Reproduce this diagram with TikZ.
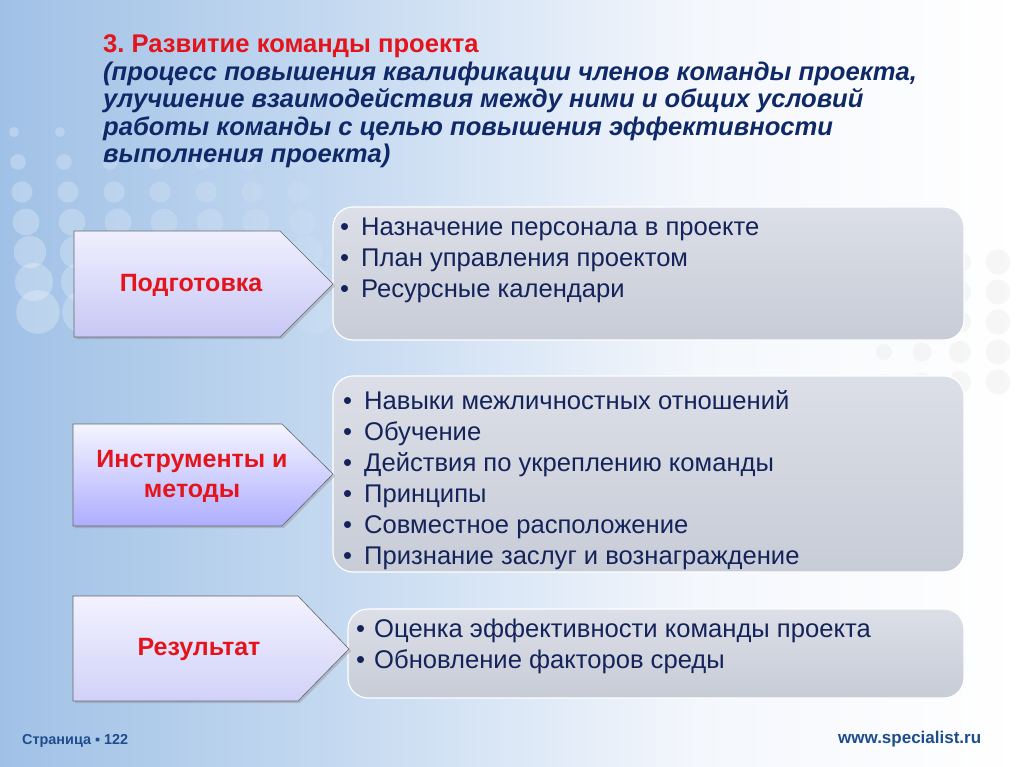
\documentclass[tikz,border=0pt]{standalone}
\usepackage{fontspec}
\setmainfont{Liberation Sans}
\usetikzlibrary{shadows}

\definecolor{titlered}{HTML}{E3141B}
\definecolor{navy}{HTML}{0F2968}
\definecolor{textnavy}{HTML}{14235A}
\definecolor{footblue}{HTML}{1E4D8C}
\definecolor{bgleft}{RGB}{160,193,230}
\definecolor{bgmid}{RGB}{198,218,241}
\definecolor{bgpale}{RGB}{244,247,252}
\definecolor{bgtop}{RGB}{220,223,231}
\definecolor{bgbot}{RGB}{200,204,215}

\pgfdeclarehorizontalshading{slidebg}{100bp}{color(0bp)=(bgleft); color(25bp)=(bgleft);
  color(42bp)=(bgmid); color(59bp)=(bgpale); color(75bp)=(white); color(100bp)=(white)}

\newcommand{\bul}[1][21pt]{\makebox[#1][l]{•}}

\tikzset{
  arrowbox/.style={draw=black!60, line width=0.6pt, drop shadow={opacity=0.35, shadow xshift=2pt, shadow yshift=-2pt}},
  listbox/.style={draw=white, line width=1.2pt, rounded corners=20pt, top color=bgtop, bottom color=bgbot},
  labeltext/.style={text=titlered, font=\bfseries\fontsize{25}{30}\selectfont, align=center},
  listtext/.style={text=textnavy, font=\fontsize{25.6}{31}\selectfont, align=left, inner sep=0pt, anchor=base west},
  foot/.style={text=footblue, font=\bfseries, inner sep=0pt, anchor=base west},
}

\begin{document}
\begin{tikzpicture}[x=1pt, y=-1pt]
    % background
    \shade[shading=slidebg] (0,0) rectangle (1024,767);
    \useasboundingbox (0,0) rectangle (1024,767);

    % dots
    \foreach \j in {0,...,6}
        \foreach \i in {0,...,6}
            \fill[white, opacity={0.26-0.03*\i}] ({14+\i*46+\j*4}, {132+\j*30}) circle ({5+\j*2.8});
    \foreach \j in {0,...,4}
        \foreach \i in {0,...,3}
            \fill[black!10, opacity=0.3] ({884+\i*38}, {262+\j*30}) circle ({8+\i*1.5});

    % title (anchored on the last line)
    \node[align=left, anchor=base west, inner sep=0pt, text=navy, font=\bfseries\fontsize{25.6}{27.5}\selectfont] (title) at (103,163)
        {{\color{titlered}3.\ Развитие команды проекта}\\
        \itshape (процесс повышения квалификации членов команды проекта,\\
        \itshape улучшение взаимодействия между ними и общих условий\\
        \itshape работы команды с целью повышения эффективности\\
        \itshape выполнения проекта)};

    % boxes
    \draw[listbox] (333,207) rectangle (964,340);
    \draw[listbox] (333,376) rectangle (964,572);
    \draw[listbox] (348,609) rectangle (964,698);

    % arrows
    \path[arrowbox, top color=black!2!blue!6!white, bottom color=black!18!blue!22!white]
        (74,231) -- (280,231) -- (333,284) -- (280,337) -- (74,337) -- cycle;
    \path[arrowbox, top color=blue!4!white, bottom color=blue!32!white]
        (73,424) -- (282,424) -- (333,474) -- (282,526) -- (73,526) -- cycle;
    \path[arrowbox, top color=black!2!blue!5!white, bottom color=black!14!blue!18!white]
        (73,596) -- (298,596) -- (349,649) -- (298,701) -- (73,701) -- cycle;

    \node[labeltext] (prep) at (191,285) {Подготовка};
    \node[labeltext] (tools) at (192,476) {Инструменты и\\методы};
    \node[labeltext] (result) at (199,649) {Результат};

    % lists (anchored on the last line)
    \node[listtext] (prep list) at (340,297)
        {\bul Назначение персонала в проекте\\
        \bul План управления проектом\\
        \bul Ресурсные календари};
    \node[listtext] (tools list) at (343,564)
        {\bul Навыки межличностных отношений\\
        \bul Обучение\\
        \bul Действия по укреплению команды\\
        \bul Принципы\\
        \bul Совместное расположение\\
        \bul Признание заслуг и вознаграждение};
    \node[listtext] (result list) at (356,668)
        {\bul[18pt]Оценка эффективности команды проекта\\
        \bul[18pt]Обновление факторов среды};

    % footer
    \node[foot, font=\bfseries\fontsize{14.4}{16}\selectfont] (page) at (22,744) {Страница ▪ 122};
    \node[foot, font=\bfseries\fontsize{17}{20}\selectfont] (site) at (838,743) {www.specialist.ru};
\end{tikzpicture}
\end{document}
